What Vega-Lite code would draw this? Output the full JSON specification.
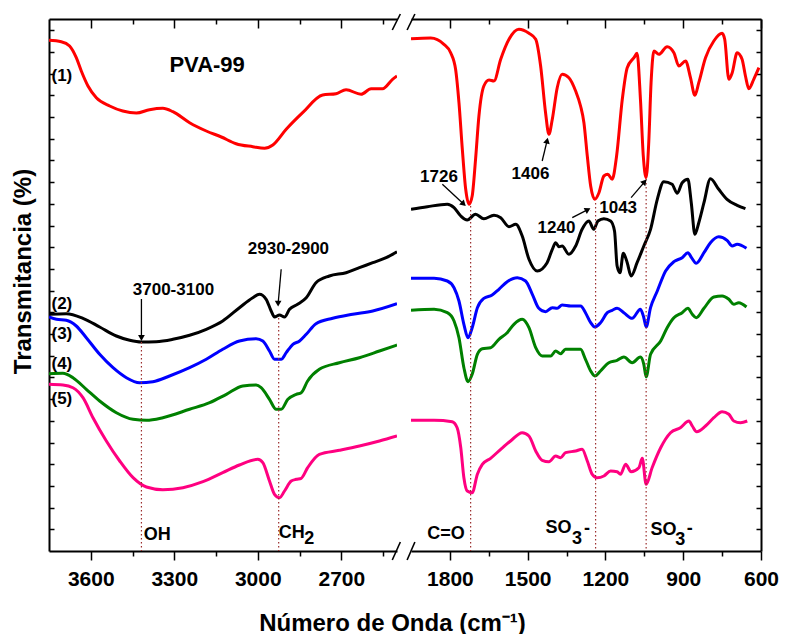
{
  "$schema": "https://vega.github.io/schema/vega-lite/v6.json",
  "background": "white",
  "padding": {"left": 11, "top": 13, "right": 0, "bottom": 0},
  "bounds": "flush",
  "spacing": 14,
  "config": {
    "view": {"stroke": null},
    "axis": {
      "grid": false,
      "domainColor": "#000000",
      "domainWidth": 2,
      "tickColor": "#000000",
      "tickWidth": 1.5,
      "labelFont": "Liberation Sans",
      "labelFontWeight": "bold",
      "labelFontSize": 21,
      "labelColor": "#000000",
      "titleFont": "Liberation Sans",
      "titleFontWeight": "bold",
      "titleFontSize": 24,
      "titleColor": "#000000"
    },
    "text": {"font": "Liberation Sans", "fontWeight": "bold", "color": "#000000"}
  },
  "datasets": {
    "spectra": [
      {"region": "high", "trace": "1", "wn": 3750, "t": 510.7},
      {"region": "high", "trace": "1", "wn": 3706, "t": 509.3},
      {"region": "high", "trace": "1", "wn": 3676, "t": 505},
      {"region": "high", "trace": "1", "wn": 3652, "t": 493.3},
      {"region": "high", "trace": "1", "wn": 3634, "t": 480},
      {"region": "high", "trace": "1", "wn": 3610, "t": 465},
      {"region": "high", "trace": "1", "wn": 3580, "t": 453.3},
      {"region": "high", "trace": "1", "wn": 3532, "t": 445},
      {"region": "high", "trace": "1", "wn": 3485, "t": 440},
      {"region": "high", "trace": "1", "wn": 3436, "t": 438},
      {"region": "high", "trace": "1", "wn": 3389, "t": 441.3},
      {"region": "high", "trace": "1", "wn": 3341, "t": 442.7},
      {"region": "high", "trace": "1", "wn": 3305, "t": 439.3},
      {"region": "high", "trace": "1", "wn": 3245, "t": 428.3},
      {"region": "high", "trace": "1", "wn": 3185, "t": 420},
      {"region": "high", "trace": "1", "wn": 3131, "t": 414},
      {"region": "high", "trace": "1", "wn": 3078, "t": 407.3},
      {"region": "high", "trace": "1", "wn": 3018, "t": 404.3},
      {"region": "high", "trace": "1", "wn": 2976, "t": 402.7},
      {"region": "high", "trace": "1", "wn": 2946, "t": 406},
      {"region": "high", "trace": "1", "wn": 2898, "t": 421.7},
      {"region": "high", "trace": "1", "wn": 2839, "t": 438.3},
      {"region": "high", "trace": "1", "wn": 2767, "t": 456},
      {"region": "high", "trace": "1", "wn": 2719, "t": 457.3},
      {"region": "high", "trace": "1", "wn": 2683, "t": 461.3},
      {"region": "high", "trace": "1", "wn": 2629, "t": 456.7},
      {"region": "high", "trace": "1", "wn": 2593, "t": 462.3},
      {"region": "high", "trace": "1", "wn": 2552, "t": 462.3},
      {"region": "high", "trace": "1", "wn": 2516, "t": 471.7},
      {"region": "high", "trace": "1", "wn": 2500, "t": 475},

      {"region": "low", "trace": "1", "wn": 1950, "t": 512.3},
      {"region": "low", "trace": "1", "wn": 1874, "t": 513},
      {"region": "low", "trace": "1", "wn": 1823, "t": 506.7},
      {"region": "low", "trace": "1", "wn": 1797, "t": 498.3},
      {"region": "low", "trace": "1", "wn": 1778, "t": 481.7},
      {"region": "low", "trace": "1", "wn": 1765, "t": 448.3},
      {"region": "low", "trace": "1", "wn": 1752, "t": 401.7},
      {"region": "low", "trace": "1", "wn": 1739, "t": 361.7},
      {"region": "low", "trace": "1", "wn": 1726, "t": 346.7},
      {"region": "low", "trace": "1", "wn": 1714, "t": 355},
      {"region": "low", "trace": "1", "wn": 1701, "t": 391.7},
      {"region": "low", "trace": "1", "wn": 1688, "t": 435},
      {"region": "low", "trace": "1", "wn": 1669, "t": 465},
      {"region": "low", "trace": "1", "wn": 1649, "t": 471},
      {"region": "low", "trace": "1", "wn": 1630, "t": 470},
      {"region": "low", "trace": "1", "wn": 1604, "t": 491.7},
      {"region": "low", "trace": "1", "wn": 1572, "t": 511.7},
      {"region": "low", "trace": "1", "wn": 1534, "t": 521.7},
      {"region": "low", "trace": "1", "wn": 1495, "t": 517.7},
      {"region": "low", "trace": "1", "wn": 1469, "t": 511.7},
      {"region": "low", "trace": "1", "wn": 1450, "t": 485},
      {"region": "low", "trace": "1", "wn": 1431, "t": 438.3},
      {"region": "low", "trace": "1", "wn": 1418, "t": 416.7},
      {"region": "low", "trace": "1", "wn": 1405, "t": 431.7},
      {"region": "low", "trace": "1", "wn": 1386, "t": 463.3},
      {"region": "low", "trace": "1", "wn": 1367, "t": 476.7},
      {"region": "low", "trace": "1", "wn": 1341, "t": 473.3},
      {"region": "low", "trace": "1", "wn": 1315, "t": 460},
      {"region": "low", "trace": "1", "wn": 1296, "t": 445},
      {"region": "low", "trace": "1", "wn": 1283, "t": 428.3},
      {"region": "low", "trace": "1", "wn": 1270, "t": 395},
      {"region": "low", "trace": "1", "wn": 1257, "t": 365},
      {"region": "low", "trace": "1", "wn": 1241, "t": 351.7},
      {"region": "low", "trace": "1", "wn": 1225, "t": 358.3},
      {"region": "low", "trace": "1", "wn": 1206, "t": 375},
      {"region": "low", "trace": "1", "wn": 1191, "t": 376.7},
      {"region": "low", "trace": "1", "wn": 1174, "t": 371.7},
      {"region": "low", "trace": "1", "wn": 1157, "t": 395},
      {"region": "low", "trace": "1", "wn": 1135, "t": 451.7},
      {"region": "low", "trace": "1", "wn": 1116, "t": 483.3},
      {"region": "low", "trace": "1", "wn": 1090, "t": 493.3},
      {"region": "low", "trace": "1", "wn": 1078, "t": 497.7},
      {"region": "low", "trace": "1", "wn": 1065, "t": 451.7},
      {"region": "low", "trace": "1", "wn": 1054, "t": 395},
      {"region": "low", "trace": "1", "wn": 1043, "t": 373.3},
      {"region": "low", "trace": "1", "wn": 1033, "t": 408.3},
      {"region": "low", "trace": "1", "wn": 1024, "t": 468.3},
      {"region": "low", "trace": "1", "wn": 1013, "t": 500},
      {"region": "low", "trace": "1", "wn": 994, "t": 496.7},
      {"region": "low", "trace": "1", "wn": 962, "t": 504.3},
      {"region": "low", "trace": "1", "wn": 936, "t": 498.3},
      {"region": "low", "trace": "1", "wn": 917, "t": 485},
      {"region": "low", "trace": "1", "wn": 891, "t": 490},
      {"region": "low", "trace": "1", "wn": 872, "t": 473.3},
      {"region": "low", "trace": "1", "wn": 855, "t": 455.7},
      {"region": "low", "trace": "1", "wn": 840, "t": 468.3},
      {"region": "low", "trace": "1", "wn": 814, "t": 493.3},
      {"region": "low", "trace": "1", "wn": 782, "t": 510},
      {"region": "low", "trace": "1", "wn": 750, "t": 517.7},
      {"region": "low", "trace": "1", "wn": 740, "t": 511.7},
      {"region": "low", "trace": "1", "wn": 724, "t": 471.7},
      {"region": "low", "trace": "1", "wn": 711, "t": 478.3},
      {"region": "low", "trace": "1", "wn": 692, "t": 498.3},
      {"region": "low", "trace": "1", "wn": 673, "t": 491.7},
      {"region": "low", "trace": "1", "wn": 660, "t": 475},
      {"region": "low", "trace": "1", "wn": 647, "t": 462.3},
      {"region": "low", "trace": "1", "wn": 628, "t": 471.7},
      {"region": "low", "trace": "1", "wn": 608, "t": 483.3},

      {"region": "high", "trace": "2", "wn": 3750, "t": 236.7},
      {"region": "high", "trace": "2", "wn": 3688, "t": 237.3},
      {"region": "high", "trace": "2", "wn": 3628, "t": 232.7},
      {"region": "high", "trace": "2", "wn": 3568, "t": 224},
      {"region": "high", "trace": "2", "wn": 3508, "t": 215},
      {"region": "high", "trace": "2", "wn": 3460, "t": 210.7},
      {"region": "high", "trace": "2", "wn": 3418, "t": 209},
      {"region": "high", "trace": "2", "wn": 3365, "t": 209.3},
      {"region": "high", "trace": "2", "wn": 3305, "t": 211.7},
      {"region": "high", "trace": "2", "wn": 3245, "t": 215.7},
      {"region": "high", "trace": "2", "wn": 3185, "t": 221.7},
      {"region": "high", "trace": "2", "wn": 3126, "t": 230},
      {"region": "high", "trace": "2", "wn": 3066, "t": 243.3},
      {"region": "high", "trace": "2", "wn": 3018, "t": 253.3},
      {"region": "high", "trace": "2", "wn": 2994, "t": 256.7},
      {"region": "high", "trace": "2", "wn": 2970, "t": 251.7},
      {"region": "high", "trace": "2", "wn": 2952, "t": 240},
      {"region": "high", "trace": "2", "wn": 2940, "t": 234},
      {"region": "high", "trace": "2", "wn": 2922, "t": 236},
      {"region": "high", "trace": "2", "wn": 2904, "t": 234},
      {"region": "high", "trace": "2", "wn": 2886, "t": 241.7},
      {"region": "high", "trace": "2", "wn": 2857, "t": 246.7},
      {"region": "high", "trace": "2", "wn": 2826, "t": 253.3},
      {"region": "high", "trace": "2", "wn": 2791, "t": 268.3},
      {"region": "high", "trace": "2", "wn": 2743, "t": 275},
      {"region": "high", "trace": "2", "wn": 2683, "t": 278.3},
      {"region": "high", "trace": "2", "wn": 2635, "t": 283.3},
      {"region": "high", "trace": "2", "wn": 2587, "t": 288.3},
      {"region": "high", "trace": "2", "wn": 2539, "t": 293.3},
      {"region": "high", "trace": "2", "wn": 2500, "t": 299.3},

      {"region": "low", "trace": "2", "wn": 1950, "t": 341.7},
      {"region": "low", "trace": "2", "wn": 1887, "t": 344.3},
      {"region": "low", "trace": "2", "wn": 1810, "t": 346.7},
      {"region": "low", "trace": "2", "wn": 1784, "t": 343.3},
      {"region": "low", "trace": "2", "wn": 1758, "t": 335},
      {"region": "low", "trace": "2", "wn": 1733, "t": 331},
      {"region": "low", "trace": "2", "wn": 1701, "t": 336.7},
      {"region": "low", "trace": "2", "wn": 1669, "t": 332.3},
      {"region": "low", "trace": "2", "wn": 1630, "t": 335.7},
      {"region": "low", "trace": "2", "wn": 1604, "t": 333.3},
      {"region": "low", "trace": "2", "wn": 1572, "t": 324.3},
      {"region": "low", "trace": "2", "wn": 1546, "t": 326.7},
      {"region": "low", "trace": "2", "wn": 1521, "t": 315},
      {"region": "low", "trace": "2", "wn": 1495, "t": 291.7},
      {"region": "low", "trace": "2", "wn": 1463, "t": 280},
      {"region": "low", "trace": "2", "wn": 1425, "t": 288.3},
      {"region": "low", "trace": "2", "wn": 1405, "t": 301.7},
      {"region": "low", "trace": "2", "wn": 1392, "t": 308.3},
      {"region": "low", "trace": "2", "wn": 1379, "t": 304.3},
      {"region": "low", "trace": "2", "wn": 1367, "t": 305},
      {"region": "low", "trace": "2", "wn": 1341, "t": 296.7},
      {"region": "low", "trace": "2", "wn": 1315, "t": 305},
      {"region": "low", "trace": "2", "wn": 1290, "t": 321.7},
      {"region": "low", "trace": "2", "wn": 1264, "t": 330},
      {"region": "low", "trace": "2", "wn": 1245, "t": 321.7},
      {"region": "low", "trace": "2", "wn": 1229, "t": 330},
      {"region": "low", "trace": "2", "wn": 1206, "t": 332.3},
      {"region": "low", "trace": "2", "wn": 1180, "t": 330},
      {"region": "low", "trace": "2", "wn": 1165, "t": 320},
      {"region": "low", "trace": "2", "wn": 1155, "t": 285},
      {"region": "low", "trace": "2", "wn": 1144, "t": 278.3},
      {"region": "low", "trace": "2", "wn": 1131, "t": 297.7},
      {"region": "low", "trace": "2", "wn": 1116, "t": 288.3},
      {"region": "low", "trace": "2", "wn": 1101, "t": 275},
      {"region": "low", "trace": "2", "wn": 1078, "t": 288.3},
      {"region": "low", "trace": "2", "wn": 1052, "t": 305},
      {"region": "low", "trace": "2", "wn": 1026, "t": 321.7},
      {"region": "low", "trace": "2", "wn": 1000, "t": 351.7},
      {"region": "low", "trace": "2", "wn": 975, "t": 369.3},
      {"region": "low", "trace": "2", "wn": 943, "t": 366.7},
      {"region": "low", "trace": "2", "wn": 923, "t": 357.7},
      {"region": "low", "trace": "2", "wn": 904, "t": 368.3},
      {"region": "low", "trace": "2", "wn": 882, "t": 371.7},
      {"region": "low", "trace": "2", "wn": 869, "t": 348.3},
      {"region": "low", "trace": "2", "wn": 855, "t": 316.7},
      {"region": "low", "trace": "2", "wn": 840, "t": 328.3},
      {"region": "low", "trace": "2", "wn": 820, "t": 348.3},
      {"region": "low", "trace": "2", "wn": 795, "t": 372.3},
      {"region": "low", "trace": "2", "wn": 763, "t": 361.7},
      {"region": "low", "trace": "2", "wn": 731, "t": 351.7},
      {"region": "low", "trace": "2", "wn": 692, "t": 345.7},
      {"region": "low", "trace": "2", "wn": 660, "t": 342.3},

      {"region": "high", "trace": "3", "wn": 3750, "t": 234},
      {"region": "high", "trace": "3", "wn": 3723, "t": 231.7},
      {"region": "high", "trace": "3", "wn": 3688, "t": 230.7},
      {"region": "high", "trace": "3", "wn": 3652, "t": 225},
      {"region": "high", "trace": "3", "wn": 3616, "t": 213.3},
      {"region": "high", "trace": "3", "wn": 3568, "t": 196.7},
      {"region": "high", "trace": "3", "wn": 3520, "t": 183.3},
      {"region": "high", "trace": "3", "wn": 3472, "t": 173.3},
      {"region": "high", "trace": "3", "wn": 3425, "t": 168.3},
      {"region": "high", "trace": "3", "wn": 3377, "t": 169.3},
      {"region": "high", "trace": "3", "wn": 3317, "t": 175},
      {"region": "high", "trace": "3", "wn": 3245, "t": 183.3},
      {"region": "high", "trace": "3", "wn": 3185, "t": 191.7},
      {"region": "high", "trace": "3", "wn": 3126, "t": 201.7},
      {"region": "high", "trace": "3", "wn": 3066, "t": 210},
      {"region": "high", "trace": "3", "wn": 3006, "t": 212.3},
      {"region": "high", "trace": "3", "wn": 2982, "t": 210},
      {"region": "high", "trace": "3", "wn": 2958, "t": 200},
      {"region": "high", "trace": "3", "wn": 2940, "t": 191.7},
      {"region": "high", "trace": "3", "wn": 2916, "t": 191.7},
      {"region": "high", "trace": "3", "wn": 2898, "t": 198.3},
      {"region": "high", "trace": "3", "wn": 2874, "t": 206.7},
      {"region": "high", "trace": "3", "wn": 2850, "t": 210},
      {"region": "high", "trace": "3", "wn": 2826, "t": 216.7},
      {"region": "high", "trace": "3", "wn": 2791, "t": 227.3},
      {"region": "high", "trace": "3", "wn": 2731, "t": 232.7},
      {"region": "high", "trace": "3", "wn": 2659, "t": 236.7},
      {"region": "high", "trace": "3", "wn": 2587, "t": 240},
      {"region": "high", "trace": "3", "wn": 2500, "t": 247.3},

      {"region": "low", "trace": "3", "wn": 1950, "t": 272.7},
      {"region": "low", "trace": "3", "wn": 1861, "t": 272.7},
      {"region": "low", "trace": "3", "wn": 1810, "t": 270},
      {"region": "low", "trace": "3", "wn": 1784, "t": 263.3},
      {"region": "low", "trace": "3", "wn": 1765, "t": 250},
      {"region": "low", "trace": "3", "wn": 1746, "t": 226.7},
      {"region": "low", "trace": "3", "wn": 1730, "t": 213.3},
      {"region": "low", "trace": "3", "wn": 1714, "t": 223.3},
      {"region": "low", "trace": "3", "wn": 1694, "t": 243.3},
      {"region": "low", "trace": "3", "wn": 1669, "t": 252.7},
      {"region": "low", "trace": "3", "wn": 1637, "t": 256},
      {"region": "low", "trace": "3", "wn": 1611, "t": 261.7},
      {"region": "low", "trace": "3", "wn": 1579, "t": 269.3},
      {"region": "low", "trace": "3", "wn": 1540, "t": 273.3},
      {"region": "low", "trace": "3", "wn": 1508, "t": 270},
      {"region": "low", "trace": "3", "wn": 1482, "t": 256.7},
      {"region": "low", "trace": "3", "wn": 1457, "t": 242.7},
      {"region": "low", "trace": "3", "wn": 1431, "t": 239.3},
      {"region": "low", "trace": "3", "wn": 1405, "t": 243.3},
      {"region": "low", "trace": "3", "wn": 1386, "t": 242.7},
      {"region": "low", "trace": "3", "wn": 1367, "t": 246},
      {"region": "low", "trace": "3", "wn": 1334, "t": 245},
      {"region": "low", "trace": "3", "wn": 1296, "t": 245},
      {"region": "low", "trace": "3", "wn": 1277, "t": 238.3},
      {"region": "low", "trace": "3", "wn": 1257, "t": 228.3},
      {"region": "low", "trace": "3", "wn": 1241, "t": 224},
      {"region": "low", "trace": "3", "wn": 1219, "t": 228.3},
      {"region": "low", "trace": "3", "wn": 1193, "t": 238.3},
      {"region": "low", "trace": "3", "wn": 1174, "t": 240.7},
      {"region": "low", "trace": "3", "wn": 1155, "t": 242.7},
      {"region": "low", "trace": "3", "wn": 1129, "t": 238.3},
      {"region": "low", "trace": "3", "wn": 1097, "t": 232.7},
      {"region": "low", "trace": "3", "wn": 1065, "t": 241.7},
      {"region": "low", "trace": "3", "wn": 1052, "t": 233.3},
      {"region": "low", "trace": "3", "wn": 1043, "t": 224},
      {"region": "low", "trace": "3", "wn": 1026, "t": 243.3},
      {"region": "low", "trace": "3", "wn": 1000, "t": 260},
      {"region": "low", "trace": "3", "wn": 968, "t": 280},
      {"region": "low", "trace": "3", "wn": 936, "t": 289.3},
      {"region": "low", "trace": "3", "wn": 904, "t": 293.3},
      {"region": "low", "trace": "3", "wn": 882, "t": 298.3},
      {"region": "low", "trace": "3", "wn": 868, "t": 293.3},
      {"region": "low", "trace": "3", "wn": 850, "t": 287.7},
      {"region": "low", "trace": "3", "wn": 820, "t": 298.3},
      {"region": "low", "trace": "3", "wn": 795, "t": 308.3},
      {"region": "low", "trace": "3", "wn": 763, "t": 314.3},
      {"region": "low", "trace": "3", "wn": 731, "t": 310.7},
      {"region": "low", "trace": "3", "wn": 711, "t": 305},
      {"region": "low", "trace": "3", "wn": 692, "t": 306.7},
      {"region": "low", "trace": "3", "wn": 656, "t": 302.7},

      {"region": "high", "trace": "4", "wn": 3750, "t": 177.3},
      {"region": "high", "trace": "4", "wn": 3700, "t": 177.7},
      {"region": "high", "trace": "4", "wn": 3664, "t": 173.3},
      {"region": "high", "trace": "4", "wn": 3616, "t": 161.7},
      {"region": "high", "trace": "4", "wn": 3568, "t": 150},
      {"region": "high", "trace": "4", "wn": 3508, "t": 138.3},
      {"region": "high", "trace": "4", "wn": 3448, "t": 131.7},
      {"region": "high", "trace": "4", "wn": 3400, "t": 130.7},
      {"region": "high", "trace": "4", "wn": 3341, "t": 133.3},
      {"region": "high", "trace": "4", "wn": 3245, "t": 141.7},
      {"region": "high", "trace": "4", "wn": 3173, "t": 148.3},
      {"region": "high", "trace": "4", "wn": 3113, "t": 156.7},
      {"region": "high", "trace": "4", "wn": 3054, "t": 165},
      {"region": "high", "trace": "4", "wn": 3006, "t": 166},
      {"region": "high", "trace": "4", "wn": 2988, "t": 163.3},
      {"region": "high", "trace": "4", "wn": 2958, "t": 151.7},
      {"region": "high", "trace": "4", "wn": 2934, "t": 141.7},
      {"region": "high", "trace": "4", "wn": 2916, "t": 141.7},
      {"region": "high", "trace": "4", "wn": 2892, "t": 151.7},
      {"region": "high", "trace": "4", "wn": 2862, "t": 156.7},
      {"region": "high", "trace": "4", "wn": 2844, "t": 158.3},
      {"region": "high", "trace": "4", "wn": 2821, "t": 170},
      {"region": "high", "trace": "4", "wn": 2779, "t": 181.7},
      {"region": "high", "trace": "4", "wn": 2707, "t": 188.3},
      {"region": "high", "trace": "4", "wn": 2635, "t": 193.3},
      {"region": "high", "trace": "4", "wn": 2563, "t": 200},
      {"region": "high", "trace": "4", "wn": 2500, "t": 206},

      {"region": "low", "trace": "4", "wn": 1950, "t": 240.7},
      {"region": "low", "trace": "4", "wn": 1861, "t": 241.7},
      {"region": "low", "trace": "4", "wn": 1810, "t": 238.3},
      {"region": "low", "trace": "4", "wn": 1784, "t": 230},
      {"region": "low", "trace": "4", "wn": 1765, "t": 213.3},
      {"region": "low", "trace": "4", "wn": 1746, "t": 183.3},
      {"region": "low", "trace": "4", "wn": 1730, "t": 169.3},
      {"region": "low", "trace": "4", "wn": 1714, "t": 176.7},
      {"region": "low", "trace": "4", "wn": 1694, "t": 196.7},
      {"region": "low", "trace": "4", "wn": 1675, "t": 202.3},
      {"region": "low", "trace": "4", "wn": 1643, "t": 203.3},
      {"region": "low", "trace": "4", "wn": 1611, "t": 211.7},
      {"region": "low", "trace": "4", "wn": 1579, "t": 218.3},
      {"region": "low", "trace": "4", "wn": 1553, "t": 226.7},
      {"region": "low", "trace": "4", "wn": 1521, "t": 231.7},
      {"region": "low", "trace": "4", "wn": 1495, "t": 223.3},
      {"region": "low", "trace": "4", "wn": 1469, "t": 203.3},
      {"region": "low", "trace": "4", "wn": 1444, "t": 195},
      {"region": "low", "trace": "4", "wn": 1411, "t": 195},
      {"region": "low", "trace": "4", "wn": 1392, "t": 200},
      {"region": "low", "trace": "4", "wn": 1373, "t": 197.3},
      {"region": "low", "trace": "4", "wn": 1354, "t": 201.7},
      {"region": "low", "trace": "4", "wn": 1296, "t": 201.7},
      {"region": "low", "trace": "4", "wn": 1277, "t": 191.7},
      {"region": "low", "trace": "4", "wn": 1257, "t": 180},
      {"region": "low", "trace": "4", "wn": 1241, "t": 175},
      {"region": "low", "trace": "4", "wn": 1219, "t": 180},
      {"region": "low", "trace": "4", "wn": 1187, "t": 188.3},
      {"region": "low", "trace": "4", "wn": 1155, "t": 190.7},
      {"region": "low", "trace": "4", "wn": 1129, "t": 194},
      {"region": "low", "trace": "4", "wn": 1097, "t": 188.3},
      {"region": "low", "trace": "4", "wn": 1065, "t": 194},
      {"region": "low", "trace": "4", "wn": 1052, "t": 186.7},
      {"region": "low", "trace": "4", "wn": 1043, "t": 174},
      {"region": "low", "trace": "4", "wn": 1026, "t": 196.7},
      {"region": "low", "trace": "4", "wn": 987, "t": 210},
      {"region": "low", "trace": "4", "wn": 962, "t": 223.3},
      {"region": "low", "trace": "4", "wn": 936, "t": 233.3},
      {"region": "low", "trace": "4", "wn": 904, "t": 238.3},
      {"region": "low", "trace": "4", "wn": 882, "t": 242.7},
      {"region": "low", "trace": "4", "wn": 865, "t": 236.7},
      {"region": "low", "trace": "4", "wn": 850, "t": 233.3},
      {"region": "low", "trace": "4", "wn": 820, "t": 242.7},
      {"region": "low", "trace": "4", "wn": 782, "t": 254},
      {"region": "low", "trace": "4", "wn": 750, "t": 255},
      {"region": "low", "trace": "4", "wn": 724, "t": 251.7},
      {"region": "low", "trace": "4", "wn": 705, "t": 246.7},
      {"region": "low", "trace": "4", "wn": 686, "t": 248.3},
      {"region": "low", "trace": "4", "wn": 656, "t": 244},

      {"region": "high", "trace": "5", "wn": 3750, "t": 166.7},
      {"region": "high", "trace": "5", "wn": 3700, "t": 166},
      {"region": "high", "trace": "5", "wn": 3664, "t": 163.3},
      {"region": "high", "trace": "5", "wn": 3628, "t": 153.3},
      {"region": "high", "trace": "5", "wn": 3592, "t": 133.3},
      {"region": "high", "trace": "5", "wn": 3544, "t": 110},
      {"region": "high", "trace": "5", "wn": 3496, "t": 90},
      {"region": "high", "trace": "5", "wn": 3448, "t": 73.3},
      {"region": "high", "trace": "5", "wn": 3400, "t": 64},
      {"region": "high", "trace": "5", "wn": 3341, "t": 61.3},
      {"region": "high", "trace": "5", "wn": 3269, "t": 63.3},
      {"region": "high", "trace": "5", "wn": 3197, "t": 69.3},
      {"region": "high", "trace": "5", "wn": 3126, "t": 78.3},
      {"region": "high", "trace": "5", "wn": 3066, "t": 86},
      {"region": "high", "trace": "5", "wn": 3000, "t": 91.7},
      {"region": "high", "trace": "5", "wn": 2982, "t": 88.3},
      {"region": "high", "trace": "5", "wn": 2958, "t": 70},
      {"region": "high", "trace": "5", "wn": 2940, "t": 56.7},
      {"region": "high", "trace": "5", "wn": 2922, "t": 53.3},
      {"region": "high", "trace": "5", "wn": 2904, "t": 60},
      {"region": "high", "trace": "5", "wn": 2880, "t": 70},
      {"region": "high", "trace": "5", "wn": 2862, "t": 71.7},
      {"region": "high", "trace": "5", "wn": 2844, "t": 72.7},
      {"region": "high", "trace": "5", "wn": 2821, "t": 83.3},
      {"region": "high", "trace": "5", "wn": 2779, "t": 96.7},
      {"region": "high", "trace": "5", "wn": 2707, "t": 100.7},
      {"region": "high", "trace": "5", "wn": 2635, "t": 105},
      {"region": "high", "trace": "5", "wn": 2563, "t": 110},
      {"region": "high", "trace": "5", "wn": 2500, "t": 115},

      {"region": "low", "trace": "5", "wn": 1950, "t": 130.7},
      {"region": "low", "trace": "5", "wn": 1861, "t": 130.7},
      {"region": "low", "trace": "5", "wn": 1791, "t": 129.3},
      {"region": "low", "trace": "5", "wn": 1772, "t": 123.3},
      {"region": "low", "trace": "5", "wn": 1758, "t": 103.3},
      {"region": "low", "trace": "5", "wn": 1746, "t": 73.3},
      {"region": "low", "trace": "5", "wn": 1733, "t": 60},
      {"region": "low", "trace": "5", "wn": 1714, "t": 58.3},
      {"region": "low", "trace": "5", "wn": 1694, "t": 76.7},
      {"region": "low", "trace": "5", "wn": 1675, "t": 86.7},
      {"region": "low", "trace": "5", "wn": 1643, "t": 92.7},
      {"region": "low", "trace": "5", "wn": 1604, "t": 101.7},
      {"region": "low", "trace": "5", "wn": 1566, "t": 110},
      {"region": "low", "trace": "5", "wn": 1521, "t": 118.3},
      {"region": "low", "trace": "5", "wn": 1495, "t": 115},
      {"region": "low", "trace": "5", "wn": 1469, "t": 100},
      {"region": "low", "trace": "5", "wn": 1444, "t": 90.7},
      {"region": "low", "trace": "5", "wn": 1418, "t": 89.3},
      {"region": "low", "trace": "5", "wn": 1392, "t": 95},
      {"region": "low", "trace": "5", "wn": 1373, "t": 93.3},
      {"region": "low", "trace": "5", "wn": 1354, "t": 98.3},
      {"region": "low", "trace": "5", "wn": 1315, "t": 100},
      {"region": "low", "trace": "5", "wn": 1290, "t": 101.7},
      {"region": "low", "trace": "5", "wn": 1270, "t": 90},
      {"region": "low", "trace": "5", "wn": 1251, "t": 76.7},
      {"region": "low", "trace": "5", "wn": 1232, "t": 73.3},
      {"region": "low", "trace": "5", "wn": 1206, "t": 75},
      {"region": "low", "trace": "5", "wn": 1180, "t": 80},
      {"region": "low", "trace": "5", "wn": 1155, "t": 79.3},
      {"region": "low", "trace": "5", "wn": 1142, "t": 76.7},
      {"region": "low", "trace": "5", "wn": 1122, "t": 86.7},
      {"region": "low", "trace": "5", "wn": 1101, "t": 79.3},
      {"region": "low", "trace": "5", "wn": 1071, "t": 83.3},
      {"region": "low", "trace": "5", "wn": 1058, "t": 92.7},
      {"region": "low", "trace": "5", "wn": 1043, "t": 66.7},
      {"region": "low", "trace": "5", "wn": 1020, "t": 83.3},
      {"region": "low", "trace": "5", "wn": 987, "t": 103.3},
      {"region": "low", "trace": "5", "wn": 949, "t": 118.3},
      {"region": "low", "trace": "5", "wn": 911, "t": 123.3},
      {"region": "low", "trace": "5", "wn": 878, "t": 130},
      {"region": "low", "trace": "5", "wn": 865, "t": 125},
      {"region": "low", "trace": "5", "wn": 848, "t": 119.3},
      {"region": "low", "trace": "5", "wn": 814, "t": 125},
      {"region": "low", "trace": "5", "wn": 782, "t": 133.3},
      {"region": "low", "trace": "5", "wn": 750, "t": 139.3},
      {"region": "low", "trace": "5", "wn": 724, "t": 136.7},
      {"region": "low", "trace": "5", "wn": 705, "t": 130},
      {"region": "low", "trace": "5", "wn": 679, "t": 128.3},
      {"region": "low", "trace": "5", "wn": 653, "t": 130}
    ],
    "guides": [
      {"region": "high", "band": "OH", "wn": 3418, "t": 209},
      {"region": "high", "band": "CH2", "wn": 2925, "t": 233},
      {"region": "low", "band": "C=O", "wn": 1720, "t": 345},
      {"region": "low", "band": "SO3 1240", "wn": 1238, "t": 348},
      {"region": "low", "band": "SO3 1043", "wn": 1043, "t": 372}
    ],
    "arrows": [
      {"region": "high", "peak": "3700-3100", "wn": 3418, "t": 252, "wn2": 3418, "t2": 213},
      {"region": "high", "peak": "2930-2900", "wn": 2916, "t": 281.7, "wn2": 2927, "t2": 247.3},
      {"region": "low", "peak": "1726", "wn": 1829, "t": 366.7, "wn2": 1747, "t2": 347},
      {"region": "low", "peak": "1406", "wn": 1444, "t": 390, "wn2": 1425, "t2": 410.4},
      {"region": "low", "peak": "1240", "wn": 1328, "t": 333.3, "wn2": 1268, "t2": 341.4},
      {"region": "low", "peak": "1043", "wn": 1101, "t": 353.3, "wn2": 1049, "t2": 369.2}
    ],
    "breaks": [
      {"region": "high", "edge": "top", "wn": 2517, "t": 521, "wn2": 2488, "t2": 537},
      {"region": "high", "edge": "bottom", "wn": 2517, "t": -9, "wn2": 2488, "t2": 9},
      {"region": "low", "edge": "top", "wn": 1965, "t": 521, "wn2": 1935, "t2": 537},
      {"region": "low", "edge": "bottom", "wn": 1965, "t": -9, "wn2": 1935, "t2": 9}
    ],
    "notes": [
      {"region": "high", "kind": "trace", "text": "(1)", "wn": 3741, "t": 475},
      {"region": "high", "kind": "trace", "text": "(2)", "wn": 3741, "t": 247.5},
      {"region": "high", "kind": "trace", "text": "(3)", "wn": 3741, "t": 217},
      {"region": "high", "kind": "trace", "text": "(4)", "wn": 3741, "t": 187},
      {"region": "high", "kind": "trace", "text": "(5)", "wn": 3741, "t": 152},
      {"region": "high", "kind": "name", "text": "PVA-99", "wn": 3182, "t": 486},
      {"region": "high", "kind": "peak", "text": "3700-3100", "wn": 3303, "t": 261},
      {"region": "high", "kind": "peak", "text": "2930-2900", "wn": 2890, "t": 302},
      {"region": "low", "kind": "peak", "text": "1726", "wn": 1842, "t": 374},
      {"region": "low", "kind": "peak", "text": "1406", "wn": 1489, "t": 377.5},
      {"region": "low", "kind": "peak", "text": "1240", "wn": 1389, "t": 323.3},
      {"region": "low", "kind": "peak", "text": "1043", "wn": 1151, "t": 343.3},
      {"region": "high", "kind": "band", "text": "OH", "wn": 3410, "t": 16},
      {"region": "high", "kind": "band", "text": "CH", "wn": 2925, "t": 18.3},
      {"region": "high", "kind": "band", "text": "2", "wn": 2833, "t": 11.7},
      {"region": "low", "kind": "band", "text": "C=O", "wn": 1887, "t": 17.5},
      {"region": "low", "kind": "band", "text": "SO", "wn": 1431, "t": 23.3},
      {"region": "low", "kind": "band", "text": "3", "wn": 1329, "t": 12.5},
      {"region": "low", "kind": "band", "text": "-", "wn": 1283, "t": 22},
      {"region": "low", "kind": "band", "text": "SO", "wn": 1026, "t": 21},
      {"region": "low", "kind": "band", "text": "3", "wn": 931, "t": 11},
      {"region": "low", "kind": "band", "text": "-", "wn": 886, "t": 22}
    ]
  },
  "resolve": {"scale": {"x": "independent"}},
  "hconcat": [
    {
      "width": 348,
      "height": 532,
      "encoding": {
        "x": {"field": "wn", "type": "quantitative", "scale": {"domain": [3750, 2500], "nice": false, "zero": false}, "axis": null},
        "y": {"field": "t", "type": "quantitative", "scale": {"domain": [0, 532], "nice": false, "zero": false}, "axis": null}
      },
      "resolve": {"axis": {"x": "independent", "y": "independent"}},
      "layer": [
        {
          "data": {"name": "spectra"},
          "transform": [{"filter": "datum.region === 'high'"}],
          "mark": {"type": "line", "strokeWidth": 3, "interpolate": "monotone", "strokeJoin": "round", "clip": true},
          "encoding": {
            "x": {
              "field": "wn", "type": "quantitative",
              "scale": {"domain": [3750, 2500], "nice": false, "zero": false},
              "axis": {
                "orient": "bottom",
                "values": [3600, 3450, 3300, 3150, 3000, 2850, 2700, 2550],
                "labelExpr": "datum.value % 300 === 0 ? datum.label : ''",
                "tickSize": {"condition": {"test": "datum.value % 300 === 0", "value": 9}, "value": 5},
                "labelPadding": 8,
                "labelDx": 7,
                "labelFlush": false,
                "labelOverlap": false,
                "labelBound": false,
                "format": "d",
                "title": "Número de Onda (cm⁻¹)",
                "titleX": 343,
                "titleY": 79,
                "titleAlign": "center",
                "titleBaseline": "alphabetic"
              }
            },
            "y": {
              "field": "t", "type": "quantitative",
              "scale": {"domain": [0, 532], "nice": false, "zero": false},
              "axis": {
                "orient": "left",
                "values": [21.7, 43.4, 65.1, 86.8, 108.5, 130.2, 151.9, 173.6, 195.3, 217, 238.7, 260.4, 282.1, 303.8, 325.5, 347.2, 368.9, 390.6, 412.3, 434, 455.7, 477.4, 499.1, 520.8],
                "labels": false,
                "tickSize": -5,
                "title": "Transmitancia (%)",
                "titleX": -26,
                "titleY": 252,
                "titleAngle": -90,
                "titleAlign": "center",
                "titleBaseline": "middle"
              }
            },
            "color": {
              "field": "trace", "type": "nominal",
              "scale": {"domain": ["1", "2", "3", "4", "5"], "range": ["#FF0000", "#000000", "#0000FF", "#008000", "#FF0080"]},
              "legend": null
            }
          }
        },
        {
          "data": {"name": "guides"},
          "transform": [{"filter": "datum.region === 'high'"}],
          "mark": {"type": "rule", "color": "#9b2d2d", "strokeWidth": 1.2, "strokeDash": [1.5, 2.5]},
          "encoding": {
            "x": {
              "field": "wn", "type": "quantitative",
              "scale": {"domain": [3750, 2500], "nice": false, "zero": false},
              "axis": {
                "orient": "top",
                "values": [3600, 3450, 3300, 3150, 3000, 2850, 2700, 2550],
                "labels": false,
                "tickSize": {"condition": {"test": "datum.value % 300 === 0", "value": -9}, "value": -5},
                "title": null
              }
            },
            "y2": {"datum": 0}
          }
        },
        {
          "data": {"name": "arrows"},
          "transform": [{"filter": "datum.region === 'high'"}],
          "mark": {"type": "rule", "color": "#000000", "strokeWidth": 1.3},
          "encoding": {"x2": {"field": "wn2"}, "y2": {"field": "t2"}}
        },
        {
          "data": {"name": "arrows"},
          "transform": [{"filter": "datum.region === 'high'"}],
          "mark": {"type": "point", "shape": "triangle-up", "filled": true, "color": "#000000", "size": 45, "angle": 180, "opacity": 1},
          "encoding": {
            "x": {"field": "wn2", "type": "quantitative", "scale": {"domain": [3750, 2500], "nice": false, "zero": false}, "axis": null},
            "y": {"field": "t2", "type": "quantitative", "scale": {"domain": [0, 532], "nice": false, "zero": false}, "axis": null}
          }
        },
        {
          "data": {"name": "breaks"},
          "transform": [{"filter": "datum.region === 'high'"}],
          "mark": {"type": "rule", "color": "#000000", "strokeWidth": 1.6, "clip": false},
          "encoding": {"x2": {"field": "wn2"}, "y2": {"field": "t2"}}
        },
        {
          "data": {"name": "notes"},
          "transform": [{"filter": "datum.region === 'high' && datum.kind === 'trace'"}],
          "mark": {"type": "text", "fontSize": 17, "align": "left", "baseline": "middle"},
          "encoding": {"text": {"field": "text"}}
        },
        {
          "data": {"name": "notes"},
          "transform": [{"filter": "datum.region === 'high' && datum.kind === 'peak'"}],
          "mark": {"type": "text", "fontSize": 17, "align": "center", "baseline": "middle"},
          "encoding": {"text": {"field": "text"}}
        },
        {
          "data": {"name": "notes"},
          "transform": [{"filter": "datum.region === 'high' && datum.kind === 'name'"}],
          "mark": {"type": "text", "fontSize": 22, "align": "center", "baseline": "middle"},
          "encoding": {"text": {"field": "text"}}
        },
        {
          "data": {"name": "notes"},
          "transform": [{"filter": "datum.region === 'high' && datum.kind === 'band'"}],
          "mark": {"type": "text", "fontSize": 18, "align": "left", "baseline": "middle"},
          "encoding": {"text": {"field": "text"}}
        }
      ]
    },
    {
      "width": 350,
      "height": 532,
      "encoding": {
        "x": {"field": "wn", "type": "quantitative", "scale": {"domain": [1950, 600], "nice": false, "zero": false}, "axis": null},
        "y": {"field": "t", "type": "quantitative", "scale": {"domain": [0, 532], "nice": false, "zero": false}, "axis": null}
      },
      "resolve": {"axis": {"x": "independent", "y": "independent"}},
      "layer": [
        {
          "data": {"name": "spectra"},
          "transform": [{"filter": "datum.region === 'low'"}],
          "mark": {"type": "line", "strokeWidth": 3, "interpolate": "monotone", "strokeJoin": "round", "clip": true},
          "encoding": {
            "x": {
              "field": "wn", "type": "quantitative",
              "scale": {"domain": [1950, 600], "nice": false, "zero": false},
              "axis": {
                "orient": "bottom",
                "values": [1800, 1650, 1500, 1350, 1200, 1050, 900, 750, 600],
                "labelExpr": "datum.value % 300 === 0 ? datum.label : ''",
                "tickSize": {"condition": {"test": "datum.value % 300 === 0", "value": 9}, "value": 5},
                "labelPadding": 8,
                "labelDx": 7,
                "labelFlush": false,
                "labelOverlap": false,
                "labelBound": false,
                "format": "d",
                "title": null
              }
            },
            "y": {
              "field": "t", "type": "quantitative",
              "scale": {"domain": [0, 532], "nice": false, "zero": false},
              "axis": {
                "orient": "right",
                "values": [21.7, 43.4, 65.1, 86.8, 108.5, 130.2, 151.9, 173.6, 195.3, 217, 238.7, 260.4, 282.1, 303.8, 325.5, 347.2, 368.9, 390.6, 412.3, 434, 455.7, 477.4, 499.1, 520.8],
                "labels": false,
                "tickSize": -5,
                "title": null
              }
            },
            "color": {
              "field": "trace", "type": "nominal",
              "scale": {"domain": ["1", "2", "3", "4", "5"], "range": ["#FF0000", "#000000", "#0000FF", "#008000", "#FF0080"]},
              "legend": null
            }
          }
        },
        {
          "data": {"name": "guides"},
          "transform": [{"filter": "datum.region === 'low'"}],
          "mark": {"type": "rule", "color": "#9b2d2d", "strokeWidth": 1.2, "strokeDash": [1.5, 2.5]},
          "encoding": {
            "x": {
              "field": "wn", "type": "quantitative",
              "scale": {"domain": [1950, 600], "nice": false, "zero": false},
              "axis": {
                "orient": "top",
                "values": [1800, 1650, 1500, 1350, 1200, 1050, 900, 750, 600],
                "labels": false,
                "tickSize": {"condition": {"test": "datum.value % 300 === 0", "value": -9}, "value": -5},
                "title": null
              }
            },
            "y2": {"datum": 0}
          }
        },
        {
          "data": {"name": "arrows"},
          "transform": [{"filter": "datum.region === 'low'"}],
          "mark": {"type": "rule", "color": "#000000", "strokeWidth": 1.3},
          "encoding": {"x2": {"field": "wn2"}, "y2": {"field": "t2"}}
        },
        {
          "data": {"name": "arrows"},
          "transform": [{"filter": "datum.peak === '1726'"}],
          "mark": {"type": "point", "shape": "triangle-up", "filled": true, "color": "#000000", "size": 45, "angle": 133, "opacity": 1},
          "encoding": {
            "x": {"field": "wn2", "type": "quantitative", "scale": {"domain": [1950, 600], "nice": false, "zero": false}, "axis": null},
            "y": {"field": "t2", "type": "quantitative", "scale": {"domain": [0, 532], "nice": false, "zero": false}, "axis": null}
          }
        },
        {
          "data": {"name": "arrows"},
          "transform": [{"filter": "datum.peak === '1406'"}],
          "mark": {"type": "point", "shape": "triangle-up", "filled": true, "color": "#000000", "size": 45, "angle": 13, "opacity": 1},
          "encoding": {
            "x": {"field": "wn2", "type": "quantitative", "scale": {"domain": [1950, 600], "nice": false, "zero": false}, "axis": null},
            "y": {"field": "t2", "type": "quantitative", "scale": {"domain": [0, 532], "nice": false, "zero": false}, "axis": null}
          }
        },
        {
          "data": {"name": "arrows"},
          "transform": [{"filter": "datum.peak === '1240'"}],
          "mark": {"type": "point", "shape": "triangle-up", "filled": true, "color": "#000000", "size": 45, "angle": 62, "opacity": 1},
          "encoding": {
            "x": {"field": "wn2", "type": "quantitative", "scale": {"domain": [1950, 600], "nice": false, "zero": false}, "axis": null},
            "y": {"field": "t2", "type": "quantitative", "scale": {"domain": [0, 532], "nice": false, "zero": false}, "axis": null}
          }
        },
        {
          "data": {"name": "arrows"},
          "transform": [{"filter": "datum.peak === '1043'"}],
          "mark": {"type": "point", "shape": "triangle-up", "filled": true, "color": "#000000", "size": 45, "angle": 40, "opacity": 1},
          "encoding": {
            "x": {"field": "wn2", "type": "quantitative", "scale": {"domain": [1950, 600], "nice": false, "zero": false}, "axis": null},
            "y": {"field": "t2", "type": "quantitative", "scale": {"domain": [0, 532], "nice": false, "zero": false}, "axis": null}
          }
        },
        {
          "data": {"name": "breaks"},
          "transform": [{"filter": "datum.region === 'low'"}],
          "mark": {"type": "rule", "color": "#000000", "strokeWidth": 1.6, "clip": false},
          "encoding": {"x2": {"field": "wn2"}, "y2": {"field": "t2"}}
        },
        {
          "data": {"name": "notes"},
          "transform": [{"filter": "datum.region === 'low' && datum.kind === 'peak'"}],
          "mark": {"type": "text", "fontSize": 17, "align": "center", "baseline": "middle"},
          "encoding": {"text": {"field": "text"}}
        },
        {
          "data": {"name": "notes"},
          "transform": [{"filter": "datum.region === 'low' && datum.kind === 'band'"}],
          "mark": {"type": "text", "fontSize": 18, "align": "left", "baseline": "middle"},
          "encoding": {"text": {"field": "text"}}
        }
      ]
    }
  ]
}
